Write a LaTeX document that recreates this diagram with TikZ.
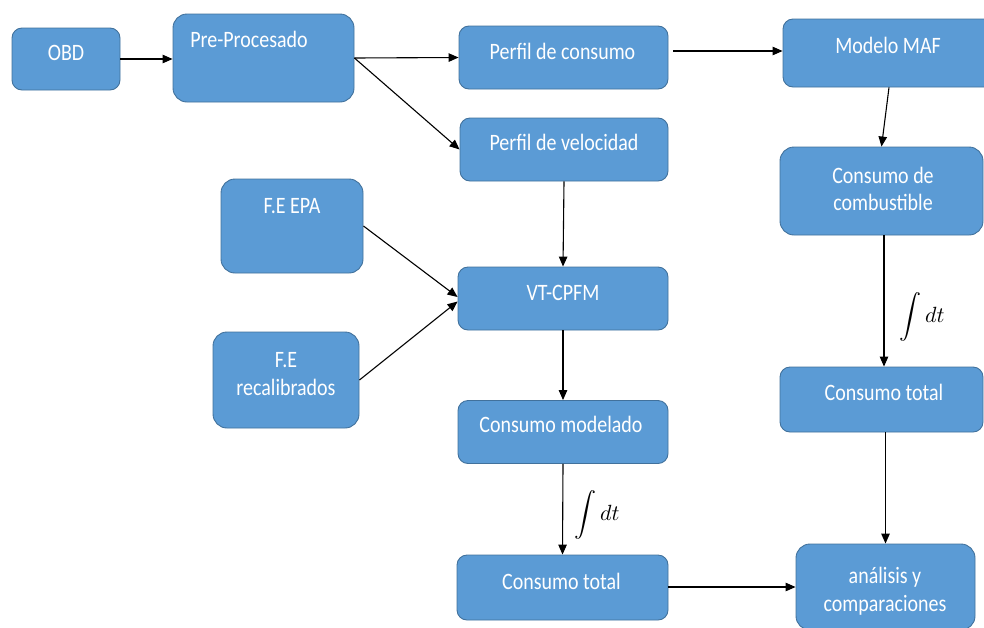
\documentclass[tikz,border=0pt]{standalone}
\usepackage{fontspec}
\setmainfont[FakeStretch=0.85]{Carlito}
\usetikzlibrary{arrows.meta,calc}
\definecolor{boxfill}{HTML}{5B9BD5}
\definecolor{boxline}{HTML}{41719C}

\begin{document}
\begin{tikzpicture}[x=1pt,y=-1pt,
  box/.style={draw=boxline, fill=boxfill, line width=0.9pt, rounded corners=10pt, inner sep=0pt},
  tallbox/.style={box, rounded corners=14pt},
  txt/.style={text=white, font=\fontsize{23.5}{27.5}\selectfont, inner sep=0pt, align=center},
  arr/.style={line width=1.1pt, -{Triangle[length=10pt,width=8.5pt]}},
  intlbl/.style={inner sep=0pt, scale=2.2, transform shape}]
\useasboundingbox (0,0) rectangle (984,627);

% process boxes
\node[box, minimum width=108, minimum height=62] (obd) at (66,59) {};
\node[tallbox, minimum width=181, minimum height=88] (pre) at (263.5,58) {};
\node[box, minimum width=209, minimum height=63] (pc) at (563.5,57.5) {};
\node[box, minimum width=212, minimum height=68] (maf) at (889,53) {};
\node[box, minimum width=208, minimum height=63] (pv) at (564,149.5) {};
\node[tallbox, minimum width=142, minimum height=94] (epa) at (292,226) {};
\node[box, minimum width=210, minimum height=63] (vt) at (563,298.5) {};
\node[tallbox, minimum width=146, minimum height=96] (rec) at (286,380) {};
\node[box, minimum width=210, minimum height=63] (cm) at (563,432) {};
\node[box, minimum width=211, minimum height=65] (ct) at (562.5,587.5) {};
\node[tallbox, minimum width=203, minimum height=88] (cc) at (881.5,191) {};
\node[box, minimum width=203, minimum height=65] (ctr) at (881.5,399.5) {};
\node[tallbox, minimum width=179, minimum height=86] (an) at (885.5,587) {};

% box texts
\node[txt, anchor=base] (obd-t) at (66,60.5) {OBD};
\node[txt, anchor=base] (pre-t) at (249,47.5) {Pre-Procesado};
\node[txt, anchor=base] (pc-t) at (562.5,59.5) {Perfil de consumo};
\node[txt, anchor=base] (maf-t) at (888,53) {Modelo MAF};
\node[txt, anchor=base] (pv-t) at (564,150.5) {Perfil de velocidad};
\node[txt, anchor=base] (epa-t) at (292,213) {F.E EPA};
\node[txt, anchor=base] (vt-t) at (563,300.5) {VT-CPFM};
\node[txt, anchor=base] (cm-t) at (561,432.5) {Consumo modelado};
\node[txt, anchor=base] (ct-t) at (561.5,589) {Consumo total};
\node[txt, anchor=base] (ctr-t) at (884,400.5) {Consumo total};
\node[txt] (rec-t) at (286,374) {F.E\\recalibrados};
\node[txt] (cc-t) at (883,189) {Consumo de\\combustible};
\node[txt] (an-t) at (885,591) {análisis y\\comparaciones};

% integration labels
\node[intlbl] (int-l) at (597,515) {$\displaystyle\int dt$};
\node[intlbl] (int-r) at (922,317) {$\displaystyle\int dt$};

% connectors
\draw[arr] (obd.east) -- (obd.east -| pre.west);
\draw[arr] (pre.east) -- (pc.west);
\draw[arr] (pre.east) -- (pv.west);
\draw[arr] ([xshift=5pt,yshift=6.5pt]pc.east) -- ([yshift=2pt]maf.west);
\draw[arr] (maf.south) -- (cc.north);
\draw[arr] ([xshift=2.5pt]cc.south) -- ([xshift=2.5pt]ctr.north);
\draw[arr] (ctr.south -| an.north) -- (an.north);
\draw[arr] (pv.south) -- (vt.north);
\draw[arr] (epa.east) -- ([yshift=1.5pt]vt.west);
\draw[arr] (rec.east) -- ([yshift=-3pt]vt.west);
\draw[arr] (vt.south) -- (cm.north);
\draw[arr] (cm.south) -- (ct.north);
\draw[arr] (ct.east |- an.west) -- (an.west);
\end{tikzpicture}
\end{document}
